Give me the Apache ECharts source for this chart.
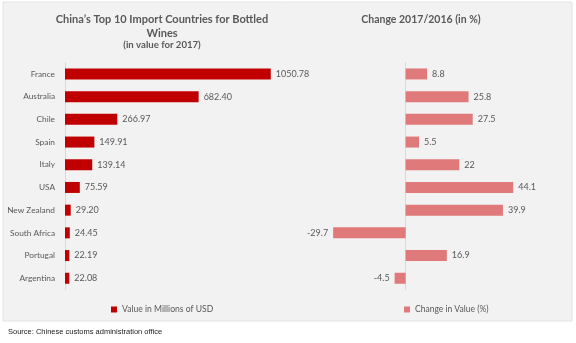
<!DOCTYPE html>
<html><head><meta charset="utf-8">
<script src="https://cdn.jsdelivr.net/npm/echarts@6/dist/echarts.min.js"></script>
<style>html,body{margin:0;padding:0;background:#fff;}#c{width:576px;height:343px;}</style>
</head><body><div id="c"></div>
<script>
const countries = ["France","Australia","Chile","Spain","Italy","USA","New Zealand","South Africa","Portugal","Argentina"];
const importValues = [1050.78, 682.40, 266.97, 149.91, 139.14, 75.59, 29.20, 24.45, 22.19, 22.08];
const changeValues = [8.8, 25.8, 27.5, 5.5, 22, 44.1, 39.9, -29.7, 16.9, -4.5];
const leftTitle = "China’s Top 10 Import Countries for Bottled\nWines";
const leftSubtitle = "(in value for 2017)";
const rightTitle = "Change 2017/2016 (in %)";
const sourceText = "Source: Chinese customs administration office";

const chart = echarts.init(document.getElementById('c'), null, {renderer:'canvas'});
const font = 'Lato, "Open Sans", "Noto Sans", sans-serif';
const labelColor = '#595959';
chart.setOption({
  animation:false,
  graphic:[
    {type:'rect', shape:{x:3,y:2,width:569,height:319}, style:{fill:'#f2f2f2', stroke:'#e4e4e4', lineWidth:1}, z:-10},
    {type:'text', left:8, top:328, style:{text:sourceText, fill:'#222', font:'7.5px "Liberation Sans", Arial, sans-serif'}}
  ],
  title:[
    {text:leftTitle, left:157, textAlign:'center', top:7, textStyle:{fontFamily:font, fontSize:11, fontWeight:'bold', color:'#595959', lineHeight:14.5}},
    {text:leftSubtitle, left:157, textAlign:'center', top:35, textStyle:{fontFamily:font, fontSize:9.6, fontWeight:'bold', color:'#595959'}},
    {text:rightTitle, left:416, textAlign:'center', top:9, textStyle:{fontFamily:font, fontSize:10.5, fontWeight:'bold', color:'#595959'}}
  ],
  legend:[
    {data:['Value in Millions of USD'], left:106, top:300, itemWidth:6, itemHeight:6,
     textStyle:{fontFamily:font, fontSize:8.6, color:labelColor}, icon:'rect'},
    {data:['Change in Value (%)'], left:399, top:300, itemWidth:6, itemHeight:6,
     textStyle:{fontFamily:font, fontSize:8.5, color:labelColor}, icon:'rect'}
  ],
  grid:[
    {left:65, right:276, top:62.6, height:227, containLabel:false},
    {left:308, right:24, top:62.6, height:227, containLabel:false}
  ],
  xAxis:[
    {gridIndex:0, type:'value', min:0, max:1200, show:false, splitLine:{show:false}},
    {gridIndex:1, type:'value', min:-40, max:60, show:false, splitLine:{show:false}}
  ],
  yAxis:[
    {gridIndex:0, type:'category', data:countries, inverse:true,
     axisLine:{show:true, lineStyle:{color:'#d9d9d9'}}, axisTick:{show:false},
     axisLabel:{fontFamily:font, fontSize:8.3, color:labelColor, margin:10}},
    {gridIndex:1, type:'category', data:countries, inverse:true,
     axisLine:{show:true, onZero:true, lineStyle:{color:'#d9d9d9'}}, axisTick:{show:false},
     axisLabel:{show:false}}
  ],
  series:[
    {name:'Value in Millions of USD', type:'bar', xAxisIndex:0, yAxisIndex:0, data:importValues, barWidth:11,
     itemStyle:{color:'#c00000'},
     label:{show:true, position:'right', distance:5, formatter:p=>p.value.toFixed(2), fontFamily:font, fontSize:9, color:labelColor}},
    {name:'Change in Value (%)', type:'bar', xAxisIndex:1, yAxisIndex:1,
     data:changeValues.map(v => v < 0 ? {value:v, label:{position:'left'}} : v), barWidth:11,
     itemStyle:{color:'#e07a7a'},
     label:{show:true, position:'right', distance:5, fontFamily:font, fontSize:9, color:labelColor,
       formatter:p=>String(p.value)}}
  ]
});
</script></body></html>
